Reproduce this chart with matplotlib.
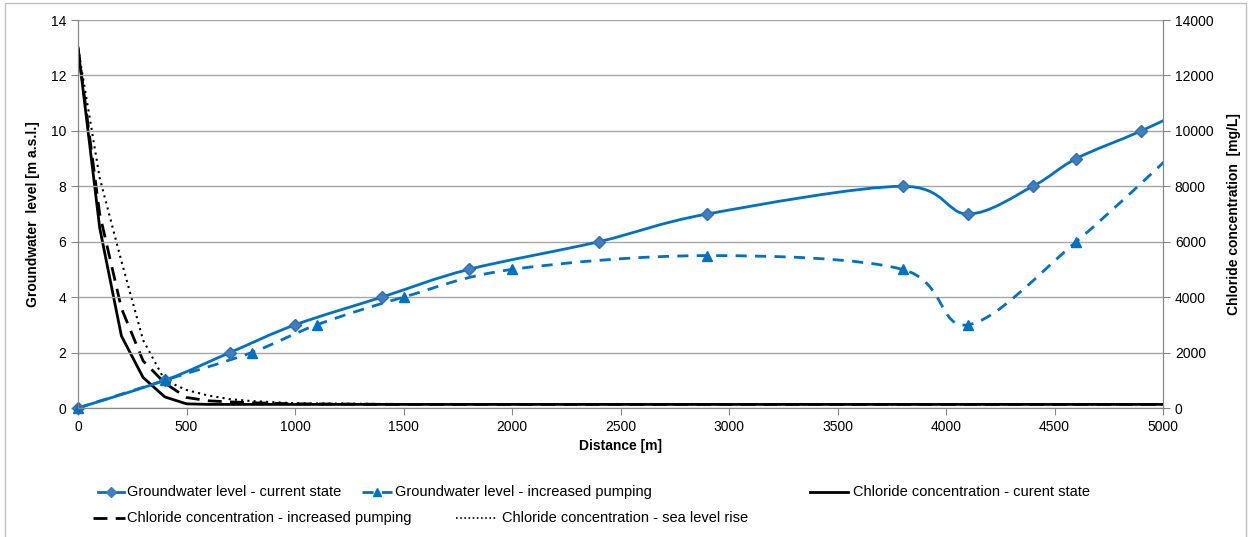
import matplotlib
matplotlib.use("Agg")
import matplotlib.pyplot as plt
from matplotlib.path import Path
from matplotlib.patches import PathPatch, Rectangle
from matplotlib.lines import Line2D

plt.rcParams['font.family'] = ['Liberation Sans', 'DejaVu Sans']

# groundwater level [m a.s.l.]
gw_current_x = [0, 400, 700, 1000, 1400, 1800, 2400, 2900, 3800, 4100, 4400, 4600, 4900, 5200]
gw_current_y = [0, 1, 2, 3, 4, 5, 6, 7, 8, 7, 8, 9, 10, 11.1]
gw_pump_x = [0, 400, 800, 1100, 1500, 2000, 2900, 3800, 4100, 4600, 5200]
gw_pump_y = [0, 1, 2, 3, 4, 5, 5.5, 5, 3, 6, 10.3]

# chloride concentration [mg/L]
cl_x = [0, 100, 200, 300, 400, 500, 600, 700, 800, 1000, 1500, 5000]
cl_current = [13000, 6500, 2600, 1100, 400, 150, 130, 130, 130, 130, 130, 130]
cl_pump = [13000, 7000, 3600, 1700, 900, 380, 260, 220, 190, 150, 130, 130]
cl_sea = [13000, 8300, 5300, 2450, 1000, 650, 450, 320, 250, 170, 140, 130]

BLUE = '#0070C0'
GRID = '#A6A6A6'


def smooth_path(xs, ys):
    # Excel-like smoothed line: cubic Bezier segments through the points
    pts = list(zip(xs, ys))
    n = len(pts)
    verts = [pts[0]]
    codes = [Path.MOVETO]
    for i in range(n - 1):
        p0 = pts[i - 1] if i > 0 else pts[i]
        p1 = pts[i]
        p2 = pts[i + 1]
        p3 = pts[i + 2] if i + 2 < n else pts[i + 1]
        c1 = (p1[0] + (p2[0] - p0[0]) / 6, p1[1] + (p2[1] - p0[1]) / 6)
        c2 = (p2[0] - (p3[0] - p1[0]) / 6, p2[1] - (p3[1] - p1[1]) / 6)
        verts += [c1, c2, p2]
        codes += [Path.CURVE4] * 3
    return Path(verts, codes)


fig = plt.figure(figsize=(12.49, 5.37), dpi=100)
ax = fig.add_axes([78 / 1249, 1 - 408 / 537, 1085 / 1249, 388 / 537])
ax2 = ax.twinx()

# chloride on the secondary axis
ax2.plot(cl_x, cl_current, color='black', lw=2, ls='-', zorder=3)
ax2.plot(cl_x, cl_pump, color='black', lw=2, ls=(0, (5, 3)), zorder=3)
ax2.plot(cl_x, cl_sea, color='black', lw=1.5, ls=(0, (1, 2)), zorder=3)
ax2.set_ylim(0, 14000)
ax2.set_yticks(range(0, 14001, 2000))

# groundwater level on the primary axis, drawn above
ax.set_zorder(ax2.get_zorder() + 1)
ax.patch.set_visible(False)
ax.add_patch(PathPatch(smooth_path(gw_current_x, gw_current_y), fill=False,
                       edgecolor=BLUE, lw=2))
ax.plot(gw_current_x[:-1], gw_current_y[:-1], ls='none', marker='D', ms=6,
        color='#3F7FC0', mec='#2F6FB0', clip_on=False)
ax.add_patch(PathPatch(smooth_path(gw_pump_x, gw_pump_y), fill=False,
                       edgecolor=BLUE, lw=2, ls=(0, (4, 3))))
ax.plot(gw_pump_x[:-1], gw_pump_y[:-1], ls='none', marker='^', ms=7, color=BLUE,
        clip_on=False)

ax.set_xlim(0, 5000)
ax.set_ylim(0, 14)
ax.set_yticks(range(0, 15, 2))
ax.set_xticks(range(0, 5001, 500))
ax.grid(axis='y', color=GRID, lw=1)
ax.set_axisbelow(True)

for a in (ax, ax2):
    for s in a.spines.values():
        s.set_color('#868686')
    a.spines['top'].set_visible(False)
    a.tick_params(colors='#868686', labelcolor='black', labelsize=10, length=5)

ax.set_xlabel('Distance [m]', fontsize=10, fontweight='bold', labelpad=4)
ax.set_ylabel('Groundwater  level [m a.s.l.]', fontsize=10, fontweight='bold', labelpad=8)
ax2.set_ylabel('Chloride concentration  [mg/L]', fontsize=10, fontweight='bold', labelpad=10)

# legend laid out like the Excel one
W, H = 1249, 537


def entry(x0, x1, xt, y, text, **kw):
    fig.add_artist(Line2D([x0 / W, x1 / W], [1 - y / H, 1 - y / H], transform=fig.transFigure, **kw))
    fig.text(xt / W, 1 - y / H, text, fontsize=10.5, va='center', ha='left')


entry(98, 124, 127, 492, 'Groundwater level - current state', color=BLUE, lw=2)
fig.add_artist(Line2D([111 / W], [1 - 492 / H], transform=fig.transFigure,
                      color='#3F7FC0', marker='D', ms=5, ls='none'))
entry(362, 392, 395, 492, 'Groundwater level - increased pumping',
      color=BLUE, lw=2, ls=(0, (4, 3)))
fig.add_artist(Line2D([377 / W], [1 - 492 / H], transform=fig.transFigure,
                      color=BLUE, marker='^', ms=6, ls='none'))
entry(810, 848, 853, 492, 'Chloride concentration - curent state', color='black', lw=2)
entry(93, 125, 127, 518, 'Chloride concentration - increased pumping',
      color='black', lw=2, ls=(0, (5, 3)))
entry(456, 496, 502, 518, 'Chloride concentration - sea level rise',
      color='black', lw=1.2, ls=(0, (1, 1.5)))

# chart frame
fig.add_artist(Rectangle((5 / W, -0.01), 1241 / W, 1 - 3 / H + 0.01, transform=fig.transFigure,
                         fill=False, edgecolor='#BFBFBF', lw=1))

fig.savefig('out.png', dpi=100)
